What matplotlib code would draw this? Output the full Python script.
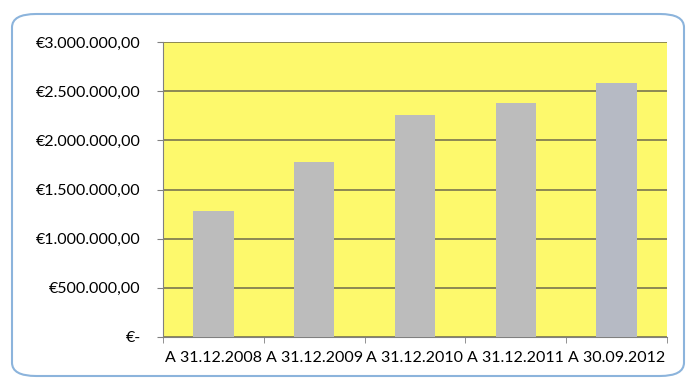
import matplotlib
matplotlib.use("Agg")
import matplotlib.pyplot as plt
from matplotlib.patches import FancyBboxPatch
from matplotlib.ticker import FuncFormatter, MultipleLocator
import numpy as np

labels = ["A 31.12.2008", "A 31.12.2009", "A 31.12.2010", "A 31.12.2011", "A 30.09.2012"]
values = [1280000, 1778000, 2256000, 2378000, 2580000]
bar_colors = ["#bcbcbc", "#bcbcbc", "#bcbcbc", "#bcbcbc", "#b6bac4"]

plt.rcParams['font.family'] = ['Lato', 'DejaVu Sans']


def euro(v, pos):
    if v == 0:
        return "€-"
    s = f"{v:,.2f}"
    s = s.replace(",", "X").replace(".", ",").replace("X", ".")
    return "€" + s


fig = plt.figure(figsize=(6.9, 3.82), dpi=100)
ax = fig.add_axes([163 / 690, 1 - 337 / 382, 504 / 690, 295 / 382])

x = np.arange(len(labels))
ax.bar(x, values, width=0.4, color=bar_colors, zorder=3)

ax.set_xlim(-0.5, len(labels) - 0.5)
ax.set_ylim(0, 3000000)
ax.set_facecolor("#fdf96c")
ax.yaxis.set_major_locator(MultipleLocator(500000))
ax.yaxis.set_major_formatter(FuncFormatter(euro))
ax.grid(axis="y", color="#7a7650", linewidth=1.2, zorder=1)

ax.set_xticks(x)
ax.set_xticklabels(labels, fontsize=11.5)
ax.set_xticks(np.arange(-0.5, len(labels)), minor=True)
ax.tick_params(axis="x", which="major", length=0, pad=10)
ax.tick_params(axis="x", which="minor", length=4, color="#808080")
ax.tick_params(axis="y", length=4, color="#808080", labelsize=11.5, pad=12)

for side in ["top", "right"]:
    ax.spines[side].set_visible(False)
ax.spines["left"].set_color("#808080")
ax.spines["bottom"].set_color("#808080")

border = FancyBboxPatch((12 / 690, 1 - 376 / 382), 672 / 690, 362 / 382,
                        boxstyle="round,pad=0,rounding_size=0.035",
                        transform=fig.transFigure, fill=False,
                        edgecolor="#8cb4dc", linewidth=1.5)
fig.patches.append(border)

fig.savefig("out.png", dpi=100)
